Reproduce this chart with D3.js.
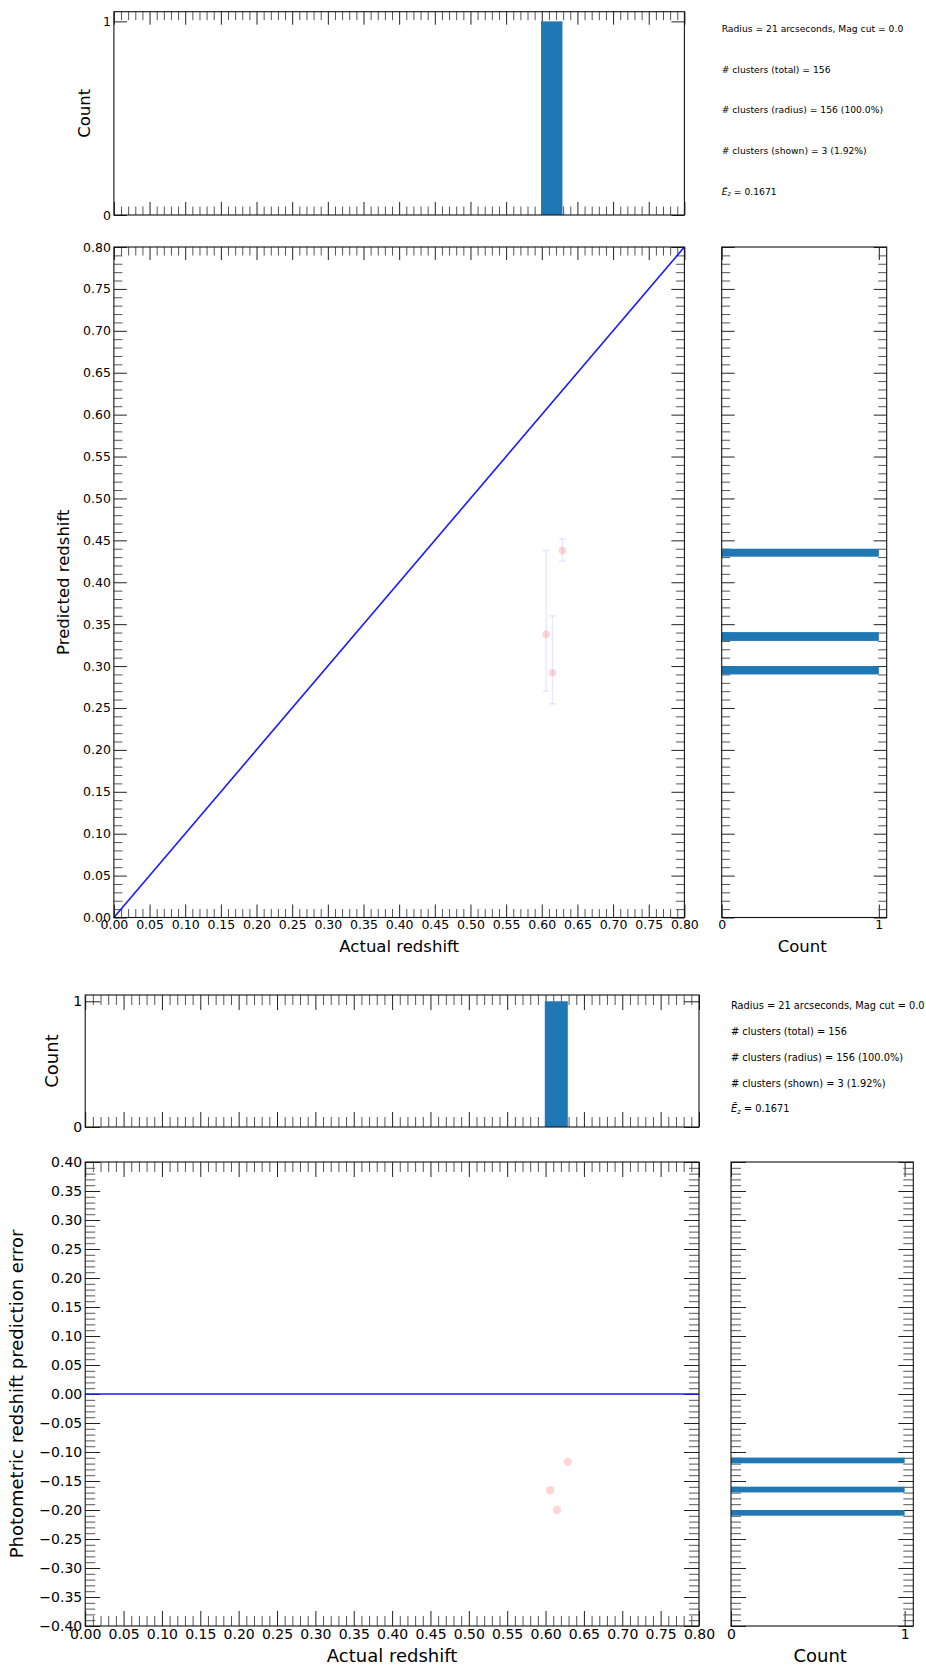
<!DOCTYPE html>
<html>
<head>
<meta charset="utf-8">
<script src="https://cdn.jsdelivr.net/npm/d3@7"></script>
<style>
  body { margin: 0; background: #fff; }
  svg { display: block; }
  text { font-family: "DejaVu Sans", sans-serif; fill: #000; }
</style>
</head>
<body>
<svg id="chart" width="926" height="1669"></svg>
<script>
// ---- cluster redshift data ----
const actualZ        = [0.606, 0.615, 0.629];
const predictedZ     = [0.338, 0.292, 0.438];
const predictedLow   = [0.270, 0.255, 0.425];
const predictedHigh  = [0.438, 0.360, 0.452];
const predictionError = [-0.166, -0.200, -0.117];

// histogram bins (lower edge, upper edge, count)
const actualBinLo = [0.599];
const actualBinHi = [0.629];
const actualBinCount = [1];

const predBinLo = [0.290, 0.330, 0.4305];
const predBinHi = [0.300, 0.3405, 0.440];
const predBinCount = [1, 1, 1];

const errBinLo = [-0.2098, -0.1697, -0.1195];
const errBinHi = [-0.2000, -0.1598, -0.1096];
const errBinCount = [1, 1, 1];

// tick values
const redshiftTicks = [0.00, 0.05, 0.10, 0.15, 0.20, 0.25, 0.30, 0.35, 0.40, 0.45,
                       0.50, 0.55, 0.60, 0.65, 0.70, 0.75, 0.80];
const errorTicks = [-0.40, -0.35, -0.30, -0.25, -0.20, -0.15, -0.10, -0.05, 0.00,
                    0.05, 0.10, 0.15, 0.20, 0.25, 0.30, 0.35, 0.40];
const countTicks = [0, 1];

// summary text
const infoLines = [
  "Radius = 21 arcseconds, Mag cut = 0.0",
  "# clusters (total) = 156",
  "# clusters (radius) = 156 (100.0%)",
  "# clusters (shown) = 3 (1.92%)"
];
const meanError = "0.1671";

const svg = d3.select("#chart");
const fmt2 = d3.format(".2f");
const BLUE = "#1f77b4";

// minor ticks every 0.01 between majors
function minorTicks(domain) {
  const out = [];
  const a = Math.round(domain[0] * 100), b = Math.round(domain[1] * 100);
  for (let i = a; i <= b; i++) if (i % 5 !== 0) out.push(i / 100);
  return out;
}

function ticks(g, axisFn, scale, values, size, color, labels, fmt, pad, fs) {
  const ax = axisFn(scale).tickValues(values).tickSize(-size)
    .tickPadding(pad || 4).tickFormat(labels ? fmt : "");
  const sel = g.call(ax);
  sel.select(".domain").remove();
  sel.selectAll(".tick line").attr("stroke", color).attr("stroke-width", 1);
  sel.selectAll(".tick text").attr("font-size", fs).attr("fill", "#000")
    .style("font-family", '"DejaVu Sans", sans-serif');
  sel.attr("font-family", null).attr("font-size", null);
}

// one framed panel with inward ticks on all four sides
function panel(p) {
  const g = svg.append("g");
  const xs = d3.scaleLinear().domain(p.xd).range([p.x0, p.x1]);
  const ys = d3.scaleLinear().domain(p.yd).range([p.y1, p.y0]);
  const M = p.major, m = p.minor;
  const add = (tx, ty) => g.append("g").attr("transform", `translate(${tx},${ty})`);

  // x ticks
  if (p.xMinor) {
    ticks(add(0, p.y1), d3.axisBottom, xs, p.xMinor, m, "#555", false);
    ticks(add(0, p.y0), d3.axisTop, xs, p.xMinor, m, "#555", false);
  }
  ticks(add(0, p.y1), d3.axisBottom, xs, p.xMajor, M, "#222", p.xLabels, p.xFmt, p.xPad, p.fs);
  ticks(add(0, p.y0), d3.axisTop, xs, p.xMajor, M, "#222", false);
  // y ticks
  if (p.yMinor) {
    ticks(add(p.x0, 0), d3.axisLeft, ys, p.yMinor, m, "#555", false);
    ticks(add(p.x1, 0), d3.axisRight, ys, p.yMinor, m, "#555", false);
  }
  ticks(add(p.x0, 0), d3.axisLeft, ys, p.yMajor, M, "#222", p.yLabels, p.yFmt, p.yPad, p.fs);
  ticks(add(p.x1, 0), d3.axisRight, ys, p.yMajor, M, "#222", false);

  const marks = g.append("g");
  g.append("rect").attr("x", p.x0).attr("y", p.y0)
    .attr("width", p.x1 - p.x0).attr("height", p.y1 - p.y0)
    .attr("fill", "none").attr("stroke", "#111").attr("stroke-width", 1.1);
  return { g: marks, xs, ys };
}

function rotLabel(text, x, y, fs) {
  svg.append("text").attr("transform", `translate(${x},${y}) rotate(-90)`)
    .attr("text-anchor", "middle").attr("dominant-baseline", "middle")
    .attr("font-size", fs).text(text);
}
function hLabel(text, x, y, fs) {
  svg.append("text").attr("x", x).attr("y", y)
    .attr("text-anchor", "middle").attr("dominant-baseline", "middle")
    .attr("font-size", fs).text(text);
}
function info(x, ys, fs) {
  infoLines.forEach((t, i) => {
    svg.append("text").attr("x", x).attr("y", ys[i]).attr("dominant-baseline", "middle")
      .attr("font-size", fs).attr("fill", "#222").text(t);
  });
  const t = svg.append("text").attr("x", x).attr("y", ys[4]).attr("dominant-baseline", "middle")
    .attr("font-size", fs).attr("fill", "#222");
  t.append("tspan").attr("font-style", "italic").text("\u0112");
  t.append("tspan").attr("font-style", "italic").attr("font-size", fs * 0.7).attr("dy", fs * 0.25).text("z");
  t.append("tspan").attr("dy", -fs * 0.25).text(" = " + meanError);
}

function figure(L, yVals, yTicks, yDomain, showErrBars, sideLo, sideHi, sideCount, yTitle) {
  const common = { major: L.major, minor: L.minor, fs: L.fs };
  const zDomain = [0, 0.8];

  // histogram of actual redshift
  const top = panel(Object.assign({}, common, {
    x0: L.x0, x1: L.x1, y0: L.hy0, y1: L.hy1, xd: zDomain, yd: [0, 1.05],
    xMajor: redshiftTicks, xMinor: minorTicks(zDomain),
    yMajor: countTicks, yLabels: true, yFmt: d3.format("d"), yPad: 3
  }));
  top.g.selectAll("rect").data(actualBinLo).join("rect")
    .attr("x", d => top.xs(d))
    .attr("width", (d, i) => top.xs(actualBinHi[i]) - top.xs(d))
    .attr("y", (d, i) => top.ys(actualBinCount[i]))
    .attr("height", (d, i) => top.ys(0) - top.ys(actualBinCount[i]))
    .attr("fill", BLUE);

  // main scatter panel
  const main = panel(Object.assign({}, common, {
    x0: L.x0, x1: L.x1, y0: L.my0, y1: L.my1, xd: zDomain, yd: yDomain,
    xMajor: redshiftTicks, xMinor: minorTicks(zDomain), xLabels: true, xFmt: fmt2, xPad: 3,
    yMajor: yTicks, yMinor: minorTicks(yDomain), yLabels: true, yFmt: fmt2, yPad: 3
  }));
  // reference line
  const refY = showErrBars ? [0, 0.8] : [0, 0];
  main.g.append("line")
    .attr("x1", main.xs(0)).attr("y1", main.ys(refY[0]))
    .attr("x2", main.xs(0.8)).attr("y2", main.ys(refY[1]))
    .attr("stroke", "#1a1aff").attr("stroke-width", 1.6);
  if (showErrBars) {
    const eb = main.g.append("g").attr("stroke", "rgba(0,0,255,0.09)").attr("stroke-width", 1.5);
    actualZ.forEach((z, i) => {
      const x = main.xs(z);
      eb.append("line").attr("x1", x).attr("x2", x)
        .attr("y1", main.ys(predictedLow[i])).attr("y2", main.ys(predictedHigh[i]));
      [predictedLow[i], predictedHigh[i]].forEach(v => eb.append("line")
        .attr("x1", x - 3.5).attr("x2", x + 3.5).attr("y1", main.ys(v)).attr("y2", main.ys(v)));
    });
  }
  main.g.selectAll("circle").data(actualZ).join("circle")
    .attr("cx", d => main.xs(d)).attr("cy", (d, i) => main.ys(yVals[i]))
    .attr("r", L.r).attr("fill", "rgba(255,0,0,0.16)");

  // side histogram of the vertical quantity
  const side = panel(Object.assign({}, common, {
    x0: L.sx0, x1: L.sx1, y0: L.my0, y1: L.my1, xd: [0, 1.05], yd: yDomain,
    xMajor: countTicks, xLabels: true, xFmt: d3.format("d"), xPad: 3,
    yMajor: yTicks, yMinor: minorTicks(yDomain)
  }));
  side.g.selectAll("rect").data(sideLo).join("rect")
    .attr("x", side.xs(0))
    .attr("width", (d, i) => side.xs(sideCount[i]) - side.xs(0))
    .attr("y", (d, i) => side.ys(sideHi[i]))
    .attr("height", (d, i) => side.ys(d) - side.ys(sideHi[i]))
    .attr("fill", BLUE);

  info(L.sx0, L.infoY, L.infoFs);
  rotLabel("Count", L.cntLabelX, (L.hy0 + L.hy1) / 2, L.lfs);
  rotLabel(yTitle, L.yTitleX, (L.my0 + L.my1) / 2, L.lfs);
  hLabel("Actual redshift", (L.x0 + L.x1) / 2, L.xTitleY, L.lfs);
  hLabel("Count", (L.sx0 + L.sx1) / 2 - 2, L.xTitleY, L.lfs);
}

// predicted vs. actual redshift
figure({
  x0: 113.9, x1: 684.4, hy0: 11.7, hy1: 215, my0: 247, my1: 917.5,
  sx0: 721.7, sx1: 886.7, major: 13, minor: 8.5, fs: 12.5, lfs: 16.5, r: 3.8,
  infoY: [29, 70, 110, 151, 191.7], infoFs: 9.2,
  cntLabelX: 85, yTitleX: 64, xTitleY: 947
}, predictedZ, redshiftTicks, [0, 0.8], true, predBinLo, predBinHi, predBinCount, "Predicted redshift");

// photometric redshift error vs. actual redshift
figure({
  x0: 85.2, x1: 699, hy0: 995, hy1: 1127, my0: 1162, my1: 1626,
  sx0: 731, sx1: 913.3, major: 15, minor: 10, fs: 14, lfs: 18, r: 4.2,
  infoY: [1005.7, 1031.7, 1058.3, 1084, 1109.3], infoFs: 9.8,
  cntLabelX: 53, yTitleX: 18, xTitleY: 1657
}, predictionError, errorTicks, [-0.4, 0.4], false, errBinLo, errBinHi, errBinCount, "Photometric redshift prediction error");
</script>
</body>
</html>
